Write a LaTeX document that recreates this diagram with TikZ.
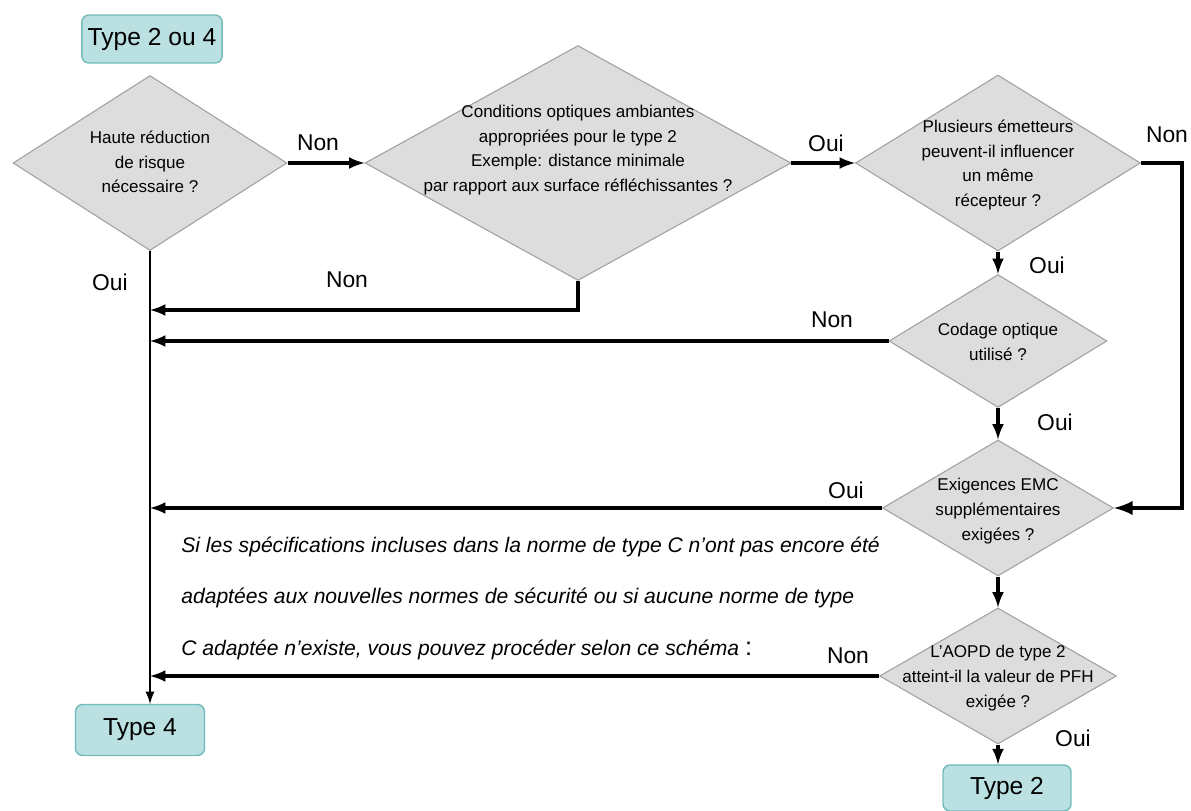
\documentclass[tikz,border=0pt]{standalone}
\usepackage{fontspec}
\setmainfont{Liberation Sans}
\usetikzlibrary{shapes.geometric,arrows,calc}
\definecolor{decfill}{RGB}{221,221,221}
\definecolor{decborder}{RGB}{160,160,160}
\definecolor{resfill}{RGB}{186,224,226}
\definecolor{resborder}{RGB}{112,186,186}
\tikzset{
    decision/.style = {draw=decborder, fill=decfill, diamond, 
        inner sep=0pt, line width=0.6pt},
    dtext/.style = {align=center, inner sep=0pt,
        font=\fontsize{9.7}{14}\selectfont},
    result/.style = {draw=resborder, fill=resfill, rectangle,
        rounded corners=4pt, line width=0.8pt,
        font=\fontsize{14}{16}\selectfont},
    arrow/.style = {draw, -latex, line width=2pt},
    answer/.style = {font=\fontsize{13}{15}\selectfont},
    note/.style = {anchor=west, inner sep=0pt,
        font=\fontsize{12}{14}\selectfont\itshape}
}

\begin{document}
\begin{tikzpicture}[x=0.02cm, y=-0.02cm]
    \useasboundingbox (0,0) rectangle (1191,811);
    \node[result, minimum width=2.7cm, minimum height=0.96cm] (t24) at (152,39) {Type 2 ou 4};
    \node[result, minimum width=2.58cm, minimum height=1.02cm] (t4) at (140,730) {Type 4};
    \node[result, minimum width=2.56cm, minimum height=0.92cm] (t2) at (1007,788) {Type 2};
    % decisions
    \node[decision, minimum width=5.48cm, minimum height=3.5cm] (d1) at (150,163) {};
    \node[decision, minimum width=8.52cm, minimum height=4.7cm] (d2) at (578,163) {};
    \node[decision, minimum width=5.7cm, minimum height=3.52cm] (d3) at (998,163) {};
    \node[decision, minimum width=4.36cm, minimum height=2.66cm] (d4) at (998,341) {};
    \node[decision, minimum width=4.62cm, minimum height=2.72cm] (d5) at (998,508) {};
    \node[decision, minimum width=4.74cm, minimum height=2.72cm] (d6) at (998,676) {};
    \node[dtext] (d1t) at (150,162) {Haute réduction\\de risque\\nécessaire ?};
    \node[dtext] (d2t) at (578,150) {Conditions optiques ambiantes\\appropriées pour le type 2\\Exemple: distance minimale\\par rapport aux surface réfléchissantes ?};
    \node[dtext] (d3t) at (998,165) {Plusieurs émetteurs\\peuvent-il influencer\\un même\\récepteur ?};
    \node[dtext] (d4t) at (998,342) {Codage optique\\utilisé ?};
    \node[dtext] (d5t) at (998,511) {Exigences EMC\\supplémentaires\\exigées ?};
    \node[dtext] (d6t) at (998,678) {L'AOPD de type 2\\atteint-il la valeur de PFH\\exigée ?};
    % junctions
    \coordinate (j1) at (150,310);
    \coordinate (r1) at (1182,163);
    % connectors
    \draw[arrow] (d1.east) -- (d2.west);
    \draw[arrow] (d2.east) -- (d3.west);
    \draw[arrow, line width=2.6pt] (d3.east) -- (r1) |- (d5.east);
    \draw[arrow] (d3.south) -- (d4.north);
    \draw[arrow] (d4.south) -- (d5.north);
    \draw[arrow] (d5.south) -- (d6.north);
    \draw[arrow] (d6.south) -- (d6.south |- t2.north);
    \draw[arrow] (d2.south) |- (j1);
    \draw[arrow] (d4.west) -- (d4.west -| d1.south);
    \draw[arrow] (d5.west) -- (d5.west -| d1.south);
    \draw[arrow] (d6.west) -- (d6.west -| d1.south);
    \draw[arrow, line width=1.4pt] (d1.south) -- (d1.south |- t4.north);
    % answers
    \node[answer] (a1) at (318,143) {Non};
    \node[answer] (a2) at (826,143) {Oui};
    \node[answer] (a3) at (1167,135) {Non};
    \node[answer] (a4) at (1047,265) {Oui};
    \node[answer] (a5) at (110,282) {Oui};
    \node[answer] (a6) at (347,280) {Non};
    \node[answer] (a7) at (832,320) {Non};
    \node[answer] (a8) at (1055,422) {Oui};
    \node[answer] (a9) at (846,490) {Oui};
    \node[answer] (a10) at (848,656) {Non};
    \node[answer] (a11) at (1073,738) {Oui};
    % note
    \node[note] (n1) at (181,547) {Si les spécifications incluses dans la norme de type C n’ont pas encore été};
    \node[note] (n2) at (181,598) {adaptées aux nouvelles normes de sécurité ou si aucune norme de type};
    \node[note] (n3) at (181,650) {C adaptée n’existe, vous pouvez procéder selon ce schéma {\upshape\Large :}};
\end{tikzpicture}
\end{document}
